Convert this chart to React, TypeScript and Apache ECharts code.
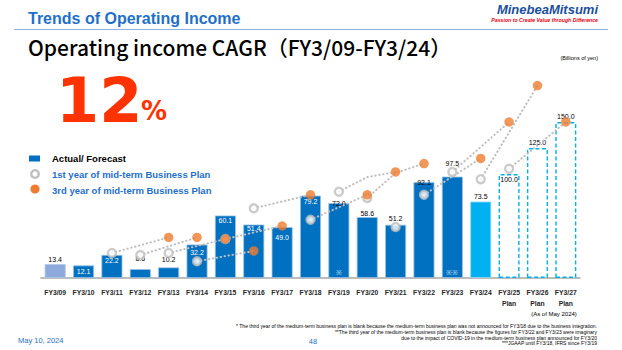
import React, { useEffect, useRef } from "react";
import * as echarts from "echarts";

const categories = [
  "FY3/09", "FY3/10", "FY3/11", "FY3/12", "FY3/13", "FY3/14", "FY3/15", "FY3/16", "FY3/17", "FY3/18",
  "FY3/19", "FY3/20", "FY3/21", "FY3/22", "FY3/23", "FY3/24", "FY3/25", "FY3/26", "FY3/27",
];
const planYears = ["FY3/25", "FY3/26", "FY3/27"];

// Actual / forecast operating income (billions of yen)
const operatingIncome = [13.4, 12.1, 22.2, 8.6, 10.2, 32.2, 60.1, 51.4, 49.0, 79.2, 72.0, 58.6, 51.2, 92.1, 97.5, 73.5, 100.0, 125.0, 150.0];

// 1st-year target of the mid-term plan starting in that year
const firstYearPlan = [null, null, 24, 22, 24, 16, 37.5, 67, null, 56, 83, 77, 49, 80, 102, 95, 105, null, null];
// 2nd-year target (indexed by the plan's starting year), only where read
const secondYearPlan = [null, null, null, null, null, null, null, null, null, null, 97, 101, null, null, null, null, null, null, null];
// 3rd-year target, shown in the year it applies to
const thirdYearPlan = [null, null, null, null, 39, 39, 37.5, 26, 50, 80, null, 80, 102, 110, null, 115, 150, 185, 150];

// bar kind: prior (JGAAP FY3/09), actual, latest, plan
const barKinds = ["prior", "actual", "actual", "actual", "actual", "actual", "actual", "actual", "actual", "actual",
  "actual", "actual", "actual", "actual", "actual", "latest", "plan", "plan", "plan"];

// label placement per bar: [position, distance]
const labelPlacement: [string, number][] = [
  ["top", 1.5], ["in", 3], ["in", 2.5], ["top", 7], ["top", 4.5], ["in", 4], ["in", 2], ["in", 0], ["in", 6.5], ["in", 2.5],
  ["top", -4], ["top", 0.5], ["top", 3], ["top", -4], ["top", 10], ["top", 2], ["in", 1.5], ["top", 2.5], ["top", 2.5],
];

const footMarks = [
  { category: "FY3/19", mark: "※" },
  { category: "FY3/23", mark: "※※" },
];

const footnotes = [
  "* The third year of the medium-term business plan is blank because the medium-term business plan was not announced for FY3/18 due to the business integration.",
  "**The third year of the medium-term business plan is blank because the figures for FY3/22 and FY3/23 were imaginary",
  "due to the impact of COVID-19 in the medium-term business plan announced for FY3/20",
  "***JGAAP until FY3/18, IFRS since FY3/19",
];

const BLUE = "#0070C0";
const LIGHT = "#00B0F0";
const PRIOR = "#8EA9DB";
const GREY = "#BFBFBF";
const ORANGE = "#ED7D31";
const HEAD_BLUE = "#1F6FC8";
const FONT = "'Liberation Sans', Arial, sans-serif";

function buildOption() {
  const barData = operatingIncome.map((v, i) => {
    const kind = barKinds[i];
    const [pos, dist] = labelPlacement[i];
    let itemStyle: any;
    if (kind === "plan") {
      itemStyle = { color: "#ffffff", borderColor: LIGHT, borderWidth: 1.4, borderType: [4, 2.5] };
    } else if (kind === "latest") {
      itemStyle = { color: LIGHT, borderColor: "#9DD9F5", borderWidth: 0.8 };
    } else if (kind === "prior") {
      itemStyle = { color: PRIOR, borderColor: "#B4C7E7", borderWidth: 0.8 };
    } else {
      itemStyle = { color: BLUE, borderColor: "#9DC3E6", borderWidth: 0.8 };
    }
    const inside = pos === "in";
    return {
      value: v,
      itemStyle,
      label: {
        show: true,
        position: inside ? "insideTop" : "top",
        distance: dist,
        color: inside && kind !== "plan" ? "#ffffff" : "#000000",
        fontSize: 7,
        fontFamily: FONT,
        formatter: (p: any) => Number(p.value).toFixed(1),
      },
    };
  });

  const planLines: any[] = [];
  for (let i = 0; i < categories.length - 2; i++) {
    if (firstYearPlan[i] == null || thirdYearPlan[i + 2] == null) continue;
    const data: any[] = categories.map(() => null);
    data[i] = firstYearPlan[i];
    data[i + 1] = secondYearPlan[i];
    data[i + 2] = thirdYearPlan[i + 2];
    planLines.push({
      type: "line",
      data,
      connectNulls: true,
      symbol: "none",
      silent: true,
      z: 3,
      lineStyle: { color: GREY, width: 2, type: [0.5, 3.5], cap: "round" },
    });
  }

  const text = (x: number, y: number, str: string, opts: any = {}) => ({
    type: "text",
    x,
    y,
    silent: true,
    style: {
      text: str,
      fill: opts.fill || "#000",
      fontSize: opts.size || 8,
      fontWeight: opts.weight || "normal",
      fontStyle: opts.style || "normal",
      fontFamily: opts.family || FONT,
      align: opts.align || "left",
      verticalAlign: "middle",
      textAlign: opts.align || "left",
      textVerticalAlign: "middle",
    },
  });

  const graphic: any[] = [
    text(28, 18, "Trends of Operating Income", { size: 16, weight: "bold", fill: HEAD_BLUE }),
    { type: "line", silent: true, shape: { x1: 14, y1: 29.5, x2: 608, y2: 29.5 }, style: { stroke: "#8EB4E3", lineWidth: 1 } },
    text(598, 9.5, "MinebeaMitsumi", { size: 13, weight: "bold", style: "italic", fill: "#1B4F9C", align: "right" }),
    text(598, 20, "Passion to Create Value through Difference", { size: 5.2, weight: "bold", style: "italic", fill: "#E60012", align: "right" }),
    text(28, 47, "Operating income CAGR（FY3/09-FY3/24）", { size: 21, weight: 500, family: "'Noto Sans CJK JP', sans-serif" }),
    text(598, 58, "(Billions of yen)", { size: 5.5, align: "right" }),
    text(56, 100, "12", { size: 62, weight: "bold", fill: "#FF3300", family: "'DejaVu Sans', sans-serif" }),
    text(141, 111, "%", { size: 26, weight: "bold", fill: "#FF3300", family: "'DejaVu Sans', sans-serif" }),
    // legend
    { type: "rect", silent: true, shape: { x: 29, y: 155.5, width: 11, height: 6 }, style: { fill: BLUE } },
    text(52, 158.5, "Actual/ Forecast", { size: 9.5, weight: "bold" }),
    { type: "circle", silent: true, shape: { cx: 35, cy: 174, r: 3.8 }, style: { fill: "#fff", stroke: GREY, lineWidth: 2.4 } },
    text(52, 174.5, "1st year of mid-term Business Plan", { size: 9.5, weight: "bold", fill: HEAD_BLUE }),
    { type: "circle", silent: true, shape: { cx: 35, cy: 189, r: 4.6 }, style: { fill: ORANGE } },
    text(52, 190, "3rd year of mid-term Business Plan", { size: 9.5, weight: "bold", fill: HEAD_BLUE }),
    // footer
    text(554, 314, "(As of May 2024)", { size: 6, align: "center" }),
    text(18, 340, "May 10, 2024", { size: 7.5, fill: HEAD_BLUE }),
    text(313, 341, "48", { size: 7.5, fill: HEAD_BLUE, align: "center" }),
    ...footnotes.map((f, i) => text(597, [326, 332, 337.5, 343][i], f, { size: 5, align: "right" })),
  ];

  return {
    animation: false,
    backgroundColor: "#ffffff",
    grid: { left: 41, right: 42, top: 70, bottom: 72 },
    xAxis: {
      type: "category",
      data: categories,
      axisLine: { lineStyle: { color: "#A6A6A6", width: 1.5 } },
      axisTick: { show: false },
      axisLabel: {
        color: "#262626",
        fontSize: 6.8,
        fontWeight: "bold",
        fontFamily: FONT,
        margin: 9,
        lineHeight: 11,
        interval: 0,
        formatter: (v: string) => (planYears.includes(v) ? v + "\nPlan" : v),
      },
    },
    yAxis: { type: "value", min: 0, max: 200, show: false, splitLine: { show: false } },
    series: [
      {
        type: "bar",
        data: barData,
        barWidth: 21,
        z: 2,
        markPoint: {
          symbol: "circle",
          symbolSize: 0,
          silent: true,
          data: footMarks.map((m) => ({ coord: [m.category, 5], value: m.mark })),
          label: { show: true, formatter: (p: any) => p.value, color: "#DDEBF7", fontSize: 7, position: "inside" },
        },
      },
      ...planLines,
      {
        type: "scatter",
        data: firstYearPlan.map((v) => (v == null ? "-" : v)),
        symbol: "circle",
        symbolSize: 8,
        z: 4,
        itemStyle: { color: "#ffffff", borderColor: GREY, borderWidth: 2.4 },
      },
      {
        type: "scatter",
        data: thirdYearPlan.map((v) => (v == null ? "-" : v)),
        symbol: "circle",
        symbolSize: 9.5,
        z: 5,
        itemStyle: { color: ORANGE },
      },
    ],
    graphic,
  };
}

export default function App() {
  const ref = useRef<HTMLDivElement>(null);
  useEffect(() => {
    document.body.style.margin = "0";
    const chart = echarts.init(ref.current!, null, { renderer: "svg" });
    chart.setOption(buildOption() as any);
    return () => chart.dispose();
  }, []);
  return <div ref={ref} style={{ width: 622, height: 350 }} />;
}
